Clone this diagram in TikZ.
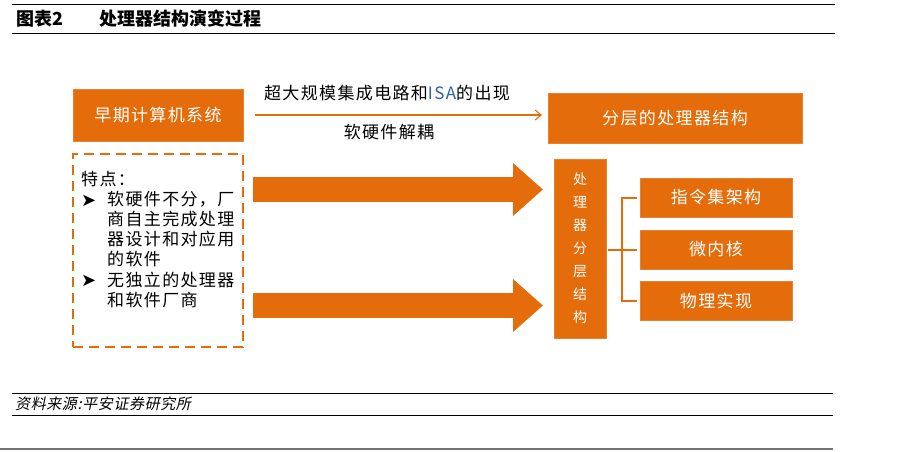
\documentclass[tikz,border=0pt]{standalone}
\usepackage{fontspec}
\setmainfont{Noto Sans CJK SC}
\newfontfamily\cjksp{Noto Sans CJK SC}[LetterSpace=8]
\newfontfamily\cjkit{Noto Sans CJK SC}[FakeSlant=0.2,LetterSpace=4]
\newfontfamily\symf{DejaVu Sans}
\usetikzlibrary{arrows.meta}
\definecolor{org}{RGB}{228,108,10}
\definecolor{isab}{RGB}{46,95,170}
\newcommand{\featbul}{{\symf\fontsize{18}{19}\selectfont\raisebox{-0.5pt}{➤}}}
\begin{document}
\begin{tikzpicture}[x=1pt,y=-1pt,
  obox/.style={fill=org, draw=org!85!white, line width=0.6pt, text=white, inner sep=0pt,
    font=\cjksp\fontsize{17}{19}\selectfont},
  dashbox/.style={draw=org, line width=2.6pt, dash pattern=on 10pt off 6pt, inner sep=0pt},
  bigarrow/.style={draw=org, line width=25pt, -{Triangle[length=30pt,width=51pt]}},
  thinarrow/.style={draw=org, line width=1.1pt, -{Straight Barb[length=6pt,width=10pt]}},
  brk/.style={draw=org, line width=2pt},
  plain/.style={inner sep=0pt, font=\cjksp\fontsize{17}{19}\selectfont},
  rule/.style={draw=black, line width=1pt}]
\useasboundingbox (0,0) rectangle (897,451);

% header
\draw[rule, line width=1.4pt] (12,4.7) coordinate (h1a) -- (835,4.7) coordinate (h1b);
\draw[rule] (12,33.3) coordinate (h2a) -- (835,33.3) coordinate (h2b);
\node[anchor=west, inner sep=0pt, font=\bfseries\fontsize{18}{20}\selectfont] (tnum) at (16,19) {图表2};
\node[anchor=west, inner sep=0pt, font=\bfseries\fontsize{18}{20}\selectfont] (ttitle) at (99,19) {处理器结构演变过程};

% left side
\node[obox, minimum width=170pt, minimum height=52pt] (early) at (158,115) {早期计算机系统};
\node[dashbox, minimum width=170pt, minimum height=193pt] (feat) at (158,250.5) {};
\node[anchor=north west, inner sep=0pt, align=left, font=\cjksp\fontsize{17}{19.1}\selectfont] (feattext) at (81,171)
 {\begin{tabular}{@{}p{26pt}@{}l@{}}
  \multicolumn{2}{@{}l@{}}{特点：}\\
  \featbul & 软硬件不分，厂\\
   & 商自主完成处理\\
   & 器设计和对应用\\
   & 的软件\\
  \featbul & 无独立的处理器\\
   & 和软件厂商
 \end{tabular}};

% top thin arrow and labels
\coordinate (ta) at (255,115);
\coordinate (tb) at (542,115);
\draw[thinarrow] (ta) -- (tb);
\node[plain] (lab1) at (387,93) {超大规模集成电路和\textcolor{isab}{ISA}的出现};
\node[plain] (lab2) at (389,132) {软硬件解耦};

% right side
\node[obox, minimum width=254pt, minimum height=50pt] (layer) at (675,118) {分层的处理器结构};
\node[obox, minimum width=52pt, minimum height=179pt, align=center,
  font=\fontsize{14}{23}\selectfont] (vbox) at (580,248.5) {处\\理\\器\\分\\层\\结\\构};
\node[obox, minimum width=152pt, minimum height=39pt] (b1) at (716,197.5) {指令集架构};
\node[obox, minimum width=152pt, minimum height=39pt] (b2) at (716,249.5) {微内核};
\node[obox, minimum width=152pt, minimum height=39pt] (b3) at (716,301) {物理实现};

% big arrows
\coordinate (a1s) at (253,189.5);
\coordinate (a1e) at (543,189.5);
\coordinate (a2s) at (253,305.5);
\coordinate (a2e) at (543,305.5);
\draw[bigarrow] (a1s) -- (a1e);
\draw[bigarrow] (a2s) -- (a2e);

% bracket
\draw[brk] ([xshift=2pt]vbox.east |- b2.west) -- ([xshift=-3pt]b2.west);
\draw[brk] ([xshift=-3pt]b1.west) -- ++(-15,0) |- ([xshift=-3pt]b3.west);

% footer
\draw[rule] (12,393) coordinate (f1a) -- (833,393) coordinate (f1b);
\draw[rule] (12,415) coordinate (f2a) -- (833,415) coordinate (f2b);
\node[anchor=west, inner sep=0pt, font=\cjkit\fontsize{15}{17}\selectfont] (src) at (15,404) {资料来源:平安证券研究所};
\draw[draw=black!55, line width=2pt] (0,449) coordinate (g1a) -- (833,449) coordinate (g1b);
\end{tikzpicture}
\end{document}
